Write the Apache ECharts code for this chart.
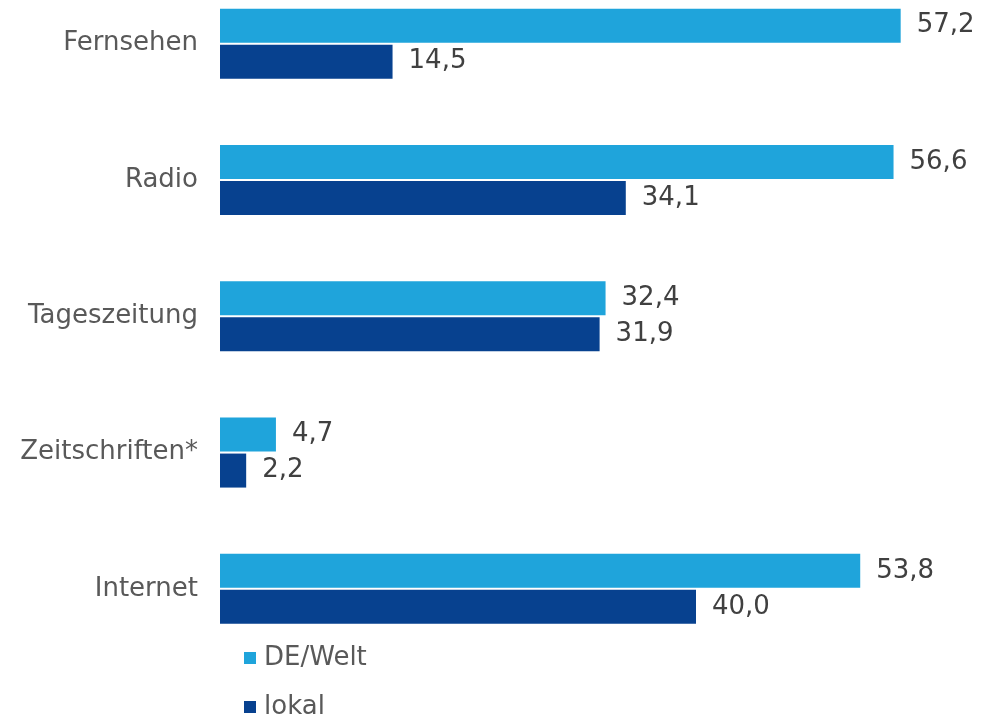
<!DOCTYPE html>
<html>
<head>
<meta charset="utf-8">
<script src="https://cdn.jsdelivr.net/npm/echarts@6/dist/echarts.min.js"></script>
<style>
  html, body { margin: 0; padding: 0; background: #fff; }
  #chart { width: 982px; height: 717px; }
</style>
</head>
<body>
<div id="chart"></div>
<script>
// Media categories (top to bottom) and share values per series
const categories = ['Fernsehen', 'Radio', 'Tageszeitung', 'Zeitschriften*', 'Internet'];
const deWelt = [57.2, 56.6, 32.4, 4.7, 53.8];
const lokal = [14.5, 34.1, 31.9, 2.2, 40.0];
const seriesNames = ['DE/Welt', 'lokal'];

const FONT = '"DejaVu Sans", Verdana, sans-serif';
const fmt = (p) => p.value.toFixed(1).replace('.', ',');

const chart = echarts.init(document.getElementById('chart'), null, { renderer: 'canvas' });

const labelStyle = {
  show: true,
  position: 'right',
  distance: 16,
  formatter: fmt,
  color: '#404040',
  fontFamily: FONT,
  fontSize: 26
};

chart.setOption({
  animation: false,
  backgroundColor: '#ffffff',
  grid: {
    left: 220, right: 48, top: -24.5, bottom: 60,
    containLabel: false,
    outerBoundsMode: 'none'
  },
  legend: {
    orient: 'vertical',
    left: 244,
    top: 643,
    width: 200,
    height: 120,
    padding: 0,
    itemWidth: 12,
    itemHeight: 12,
    itemGap: 19,
    icon: 'rect',
    textStyle: {
      color: '#595959', fontFamily: FONT, fontSize: 26, lineHeight: 30,
      padding: [0, 0, 0, 3]
    },
    data: seriesNames
  },
  xAxis: {
    type: 'value',
    min: 0,
    max: 60,
    show: false
  },
  yAxis: {
    type: 'category',
    inverse: true,
    data: categories,
    axisLine: { show: false },
    axisTick: { show: false },
    splitLine: { show: false },
    axisLabel: {
      margin: 22,
      color: '#595959',
      fontFamily: FONT,
      fontSize: 26
    }
  },
  series: [
    {
      name: seriesNames[0],
      type: 'bar',
      data: deWelt,
      barWidth: 34,
      barGap: '6%',
      itemStyle: { color: '#1FA4DB' },
      label: labelStyle
    },
    {
      name: seriesNames[1],
      type: 'bar',
      data: lokal,
      barWidth: 34,
      barGap: '6%',
      itemStyle: { color: '#07418F' },
      label: labelStyle
    }
  ]
});
</script>
</body>
</html>
